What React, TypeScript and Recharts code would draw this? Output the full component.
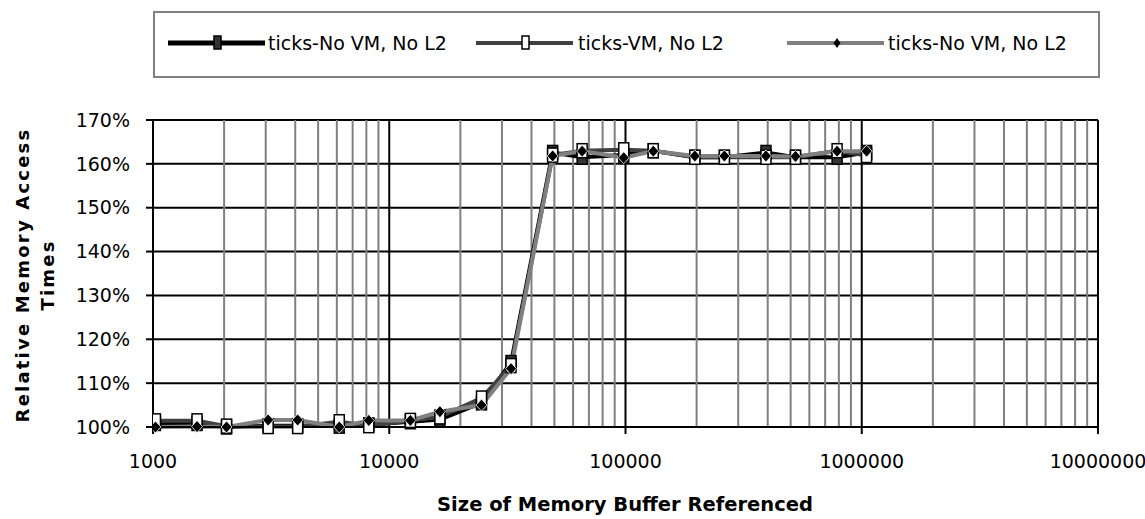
import { LineChart, Line, XAxis, YAxis, CartesianGrid, ReferenceLine } from "recharts"

const sizes = [1024, 1536, 2048, 3072, 4096, 6144, 8192, 12288, 16384, 24576, 32768, 49152, 65536, 98304, 131072, 196608, 262144, 393216, 524288, 786432, 1048576]
const ticksNoVmNoL2 = [100.8, 100.8, 100, 100.3, 100.3, 100.2, 100.5, 101.2, 101.7, 105.5, 114.7, 162.6, 161.5, 162, 163, 161.5, 161.5, 162.6, 161.5, 161.5, 162.6]
const ticksVmNoL2 = [101.4, 101.4, 100.2, 100.1, 100.1, 101.2, 100.3, 101.5, 102.3, 106.6, 114, 162, 163, 163.2, 163, 161.5, 161.5, 161.5, 161.5, 163, 161.9]
const ticksNoVmNoL2b = [100, 100.1, 100, 101.6, 101.6, 100, 101.5, 101.5, 103.5, 105, 113.3, 161.8, 162.9, 161.4, 162.9, 161.8, 161.8, 161.8, 161.7, 162.9, 162.9]

const yTicks = [100, 110, 120, 130, 140, 150, 160, 170]
const xTicks = [1000, 10000, 100000, 1000000, 10000000]
const majorLines = [10000, 100000, 1000000, 10000000]
const minorLines = [
  2000, 3000, 4000, 5000, 6000, 7000, 8000, 9000,
  20000, 30000, 40000, 50000, 60000, 70000, 80000, 90000,
  200000, 300000, 400000, 500000, 600000, 700000, 800000, 900000,
  2000000, 3000000, 4000000, 5000000, 6000000, 7000000, 8000000, 9000000,
]

const data = sizes.map((size, i) => ({
  size,
  a: ticksNoVmNoL2[i],
  b: ticksVmNoL2[i],
  c: ticksNoVmNoL2b[i],
}))

const font = "'DejaVu Sans', sans-serif"

const darkSquare = (props: any) => {
  const { cx, cy, index } = props
  return <rect key={`a-${index}`} x={cx - 5} y={cy - 7} width={10} height={14} fill="#333" stroke="#000" strokeWidth={1.5} />
}
const whiteSquare = (props: any) => {
  const { cx, cy, index } = props
  return <rect key={`b-${index}`} x={cx - 5} y={cy - 7} width={10} height={14} fill="#fff" stroke="#000" strokeWidth={1.5} />
}
const diamond = (props: any) => {
  const { cx, cy, index } = props
  return (
    <polygon
      key={`c-${index}`}
      points={`${cx},${cy - 6} ${cx + 5.5},${cy} ${cx},${cy + 6} ${cx - 5.5},${cy}`}
      fill="#000"
      stroke="#fff"
      strokeWidth={0.8}
    />
  )
}

function LegendItem({ left, color, width, marker, label, textLeft }: any) {
  return (
    <>
      <svg style={{ position: "absolute", left, top: 33, overflow: "visible" }} width={97} height={20}>
        <line x1={0} x2={97} y1={10} y2={10} stroke={color} strokeWidth={width} />
        {marker}
      </svg>
      <div style={{ position: "absolute", left: textLeft, top: 31, fontSize: 19, lineHeight: "24px", whiteSpace: "nowrap" }}>{label}</div>
    </>
  )
}

export default function App() {
  return (
    <div style={{ position: "absolute", left: 0, top: 0, width: 1145, height: 519, background: "#fff", fontFamily: font, color: "#000" }}>
      <div style={{ position: "absolute", left: 153, top: 11, width: 943, height: 63, border: "2px solid #808080" }} />
      <div style={{ position: "absolute", left: 0, top: 0 }}>
        <LegendItem left={168} color="#000" width={5} label="ticks-No VM, No L2" textLeft={268}
          marker={<rect x={46} y={3} width={7} height={13} fill="#333" stroke="#000" strokeWidth={1.5} />} />
        <LegendItem left={476} color="#404040" width={4} label="ticks-VM, No L2" textLeft={578}
          marker={<rect x={46} y={3} width={7} height={13} fill="#fff" stroke="#000" strokeWidth={1.5} />} />
        <LegendItem left={787} color="#808080" width={4} label="ticks-No VM, No L2" textLeft={888}
          marker={<polygon points="50,5 53.5,10 50,15 46.5,10" fill="#000" />} />
      </div>

      <LineChart width={1145} height={519} data={data} margin={{ top: 120, right: 47, bottom: 0, left: 0 }} style={{ position: "absolute", left: 0, top: 0 }}>
        <CartesianGrid vertical={false} stroke="#000" strokeWidth={2} strokeOpacity={1} />
        {minorLines.map((v) => (
          <ReferenceLine key={`m-${v}`} x={v} stroke="#808080" strokeWidth={2} />
        ))}
        {majorLines.map((v) => (
          <ReferenceLine key={`M-${v}`} x={v} stroke="#000" strokeWidth={2} />
        ))}
        <XAxis
          dataKey="size"
          type="number"
          scale="log"
          domain={[1000, 10000000]}
          ticks={xTicks}
          interval={0}
          allowDataOverflow
          height={92}
          tickSize={7}
          tickMargin={21}
          tickLine={{ stroke: "#000", strokeWidth: 2 }}
          axisLine={{ stroke: "#000", strokeWidth: 2 }}
          tick={{ fontSize: 19, fill: "#000", fontFamily: font }}
          tickFormatter={(v: number) => String(v)}
        />
        <YAxis
          type="number"
          domain={[100, 170]}
          ticks={yTicks}
          interval={0}
          width={153}
          tickSize={7}
          tickMargin={16}
          tickLine={{ stroke: "#000", strokeWidth: 2 }}
          axisLine={{ stroke: "#000", strokeWidth: 2 }}
          tick={{ fontSize: 19, fill: "#000", fontFamily: font }}
          tickFormatter={(v: number) => `${v}%`}
        />
        <Line dataKey="a" stroke="#000" strokeWidth={4} dot={darkSquare} isAnimationActive={false} />
        <Line dataKey="b" stroke="#404040" strokeWidth={4} dot={whiteSquare} isAnimationActive={false} />
        <Line dataKey="c" stroke="#808080" strokeWidth={4} dot={diamond} isAnimationActive={false} />
      </LineChart>

      <div
        style={{
          position: "absolute",
          left: -125,
          top: 250,
          width: 320,
          height: 50,
          transform: "rotate(-90deg)",
          textAlign: "center",
          fontWeight: "bold",
          fontSize: 18,
          letterSpacing: 2.2,
          lineHeight: "25px",
        }}
      >
        Relative Memory Access
        <br />
        Times
      </div>
      <div style={{ position: "absolute", left: 375, top: 493, width: 500, textAlign: "center", fontWeight: "bold", fontSize: 19.5 }}>
        Size of Memory Buffer Referenced
      </div>
    </div>
  )
}
